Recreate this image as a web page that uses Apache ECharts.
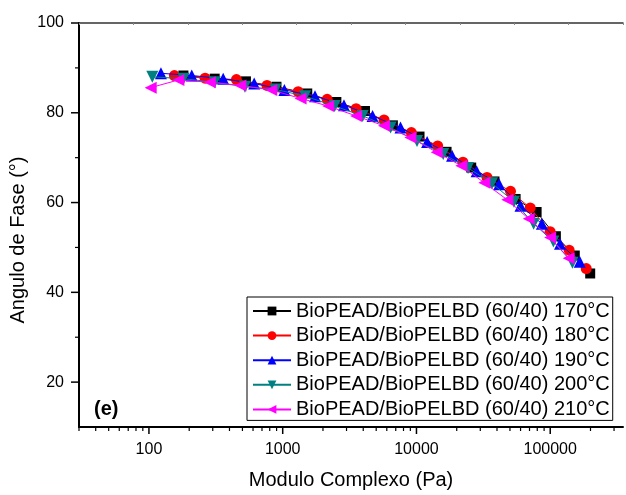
<!DOCTYPE html>
<html><head><meta charset="utf-8">
<script src="https://cdn.jsdelivr.net/npm/echarts@6/dist/echarts.min.js"></script>
<style>html,body{margin:0;padding:0;background:#fff}#c{width:626px;height:495px}</style>
</head><body><div id="c"></div>
<script>
const seriesNames = [
  'BioPEAD/BioPELBD (60/40) 170°C',
  'BioPEAD/BioPELBD (60/40) 180°C',
  'BioPEAD/BioPELBD (60/40) 190°C',
  'BioPEAD/BioPELBD (60/40) 200°C',
  'BioPEAD/BioPELBD (60/40) 210°C'
];
const x170 = [181, 310, 531, 898, 1526, 2519, 4121, 6663, 10540, 16790, 25660, 38300, 55100, 79100, 110200, 152600, 199000];
const y170 = [88.3, 87.6, 87.0, 85.8, 84.3, 82.4, 80.4, 77.2, 74.7, 71.3, 67.8, 64.7, 60.8, 57.9, 52.5, 48.2, 44.2];
const x180 = [155, 263, 451, 763, 1305, 2150, 3538, 5721, 9156, 14410, 22250, 33680, 50460, 70860, 99840, 138500, 185900];
const y180 = [88.3, 87.7, 87.4, 86.1, 84.7, 83.0, 80.9, 78.4, 75.6, 72.6, 69.0, 65.6, 62.5, 58.8, 53.5, 49.4, 45.3];
const x190 = [123, 209, 359, 612, 1029, 1743, 2871, 4697, 7594, 12010, 18460, 28180, 41500, 59980, 86570, 118300, 166200];
const y190 = [88.8, 88.3, 87.6, 86.5, 85.1, 83.7, 81.7, 79.3, 76.7, 73.5, 70.4, 67.0, 64.1, 59.3, 55.3, 50.8, 46.8];
const x200 = [106, 181, 310, 522, 884, 1471, 2447, 3963, 6410, 10090, 15850, 24310, 36720, 53540, 75170, 105600, 146600];
const y200 = [88.0, 87.6, 86.8, 85.8, 85.2, 83.7, 81.5, 79.3, 76.7, 73.7, 70.8, 67.7, 64.3, 60.2, 55.3, 51.3, 46.6];
const x210 = [103, 166, 285, 483, 821, 1360, 2188, 3538, 5721, 9000, 14170, 21650, 32170, 47780, 69070, 99840, 137400];
const y210 = [85.6, 87.3, 86.8, 86.1, 85.1, 83.2, 81.5, 79.3, 77.1, 74.5, 71.2, 68.2, 64.4, 60.6, 56.4, 52.2, 47.6];

const xMajorTicks = [100, 1000, 10000, 100000];
const xMinorTicks = [30, 40, 50, 60, 70, 80, 90, 200, 300, 400, 500, 600, 700, 800, 900,
  2000, 3000, 4000, 5000, 6000, 7000, 8000, 9000, 20000, 30000, 40000, 50000, 60000, 70000, 80000, 90000,
  200000, 300000];
const yMajorTicks = [20, 40, 60, 80, 100];
const yMinorTicks = [30, 50, 70, 90];

const X_MIN = 30, X_MAX = 350000, Y_MIN = 10, Y_MAX = 100;
const FONT = '"Liberation Sans", Arial, sans-serif';

const colors = ['#000000', '#ff0000', '#0000ff', '#008080', '#ff00ff'];
const symbols = ['rect', 'circle', 'triangle', 'triangle', 'triangle'];
const rotates = [0, 0, 0, 180, 90];
const sizes = [10, 11, 12, 12, 12];
const xs = [x170, x180, x190, x200, x210];
const ys = [y170, y180, y190, y200, y210];

function pairs(a, b) { return a.map((v, i) => [v, b[i]]); }

const dataSeries = seriesNames.map((n, i) => ({
  name: n, type: 'line', data: pairs(xs[i], ys[i]),
  symbol: symbols[i], symbolRotate: rotates[i], symbolSize: sizes[i],
  lineStyle: { color: colors[i], width: 1 },
  itemStyle: { color: colors[i] },
  emphasis: { disabled: true }, animation: false, z: 3 + i
}));

function tickSeries(data, dx, dy, width) {
  return {
    type: 'custom', coordinateSystem: 'cartesian2d', clip: false, silent: true, animation: false, z: 10,
    data: data,
    renderItem: function (params, api) {
      const p = api.coord([api.value(0), api.value(1)]);
      return { type: 'line', shape: { x1: p[0], y1: p[1], x2: p[0] + dx, y2: p[1] + dy },
        style: { stroke: '#000', lineWidth: width } };
    }
  };
}

const chart = echarts.init(document.getElementById('c'), null, { renderer: 'canvas' });
chart.setOption({
  animation: false,
  backgroundColor: '#fff',
  textStyle: { fontFamily: FONT },
  grid: { left: 79, right: -5, top: 23, bottom: 65, containLabel: false },
  xAxis: [{
    type: 'log', logBase: 10, min: X_MIN, max: X_MAX,
    name: 'Modulo Complexo (Pa)', nameLocation: 'middle', nameGap: 43,
    nameTextStyle: { fontSize: 20, color: '#000', fontFamily: FONT },
    axisLine: { show: true, lineStyle: { color: '#000', width: 2 } },
    axisTick: { show: false }, splitLine: { show: false }, minorTick: { show: false },
    axisLabel: {
      fontSize: 16, color: '#000', margin: 15, fontFamily: FONT, showMinLabel: true, showMaxLabel: true,
      formatter: function (v) {
        const l = Math.log10(v);
        return Math.abs(l - Math.round(l)) < 1e-6 ? String(Math.round(v)) : '';
      }
    }
  }, {
    type: 'value', position: 'top', min: 0, max: 10, interval: 1,
    axisLine: { show: true, lineStyle: { color: '#333', width: 1.5 } },
    axisTick: { show: true, inside: true, length: 2, lineStyle: { color: '#888' } },
    axisLabel: { show: false }, splitLine: { show: false }
  }],
  yAxis: {
    type: 'value', min: Y_MIN, max: Y_MAX, interval: 10,
    axisLine: { show: true, lineStyle: { color: '#000', width: 2 } },
    axisTick: { show: false }, splitLine: { show: false },
    axisLabel: {
      fontSize: 16, color: '#000', margin: 15, fontFamily: FONT,
      formatter: function (v) { return v % 20 === 0 ? String(v) : ''; }
    }
  },
  legend: {
    data: seriesNames, orient: 'vertical', left: 247, top: 297,
    itemWidth: 38, itemHeight: 11, itemGap: 4.6,
    padding: [4, 3, 1, 5],
    borderColor: '#000', borderWidth: 1, backgroundColor: '#fff',
    textStyle: { fontSize: 20, color: '#000', fontFamily: FONT, lineHeight: 20 },
    selectedMode: false
  },
  graphic: [
    { type: 'text', x: 94, y: 409, style: { text: '(e)', font: 'bold 20px ' + FONT, fill: '#000', verticalAlign: 'middle', align: 'left' } },
    { type: 'text', x: 18, y: 240, rotation: Math.PI / 2, style: { text: 'Angulo de Fase (°)', font: '20px ' + FONT, fill: '#000', align: 'center', verticalAlign: 'middle' } }
  ],
  series: dataSeries.concat([
    tickSeries(xMajorTicks.map(v => [v, Y_MIN]), 0, 7, 1.5),
    tickSeries(xMinorTicks.map(v => [v, Y_MIN]), 0, 4, 1.2),
    tickSeries(yMajorTicks.map(v => [X_MIN, v]), -8, 0, 1.5),
    tickSeries(yMinorTicks.map(v => [X_MIN, v]), -4, 0, 1.2)
  ])
});
</script>
</body></html>
